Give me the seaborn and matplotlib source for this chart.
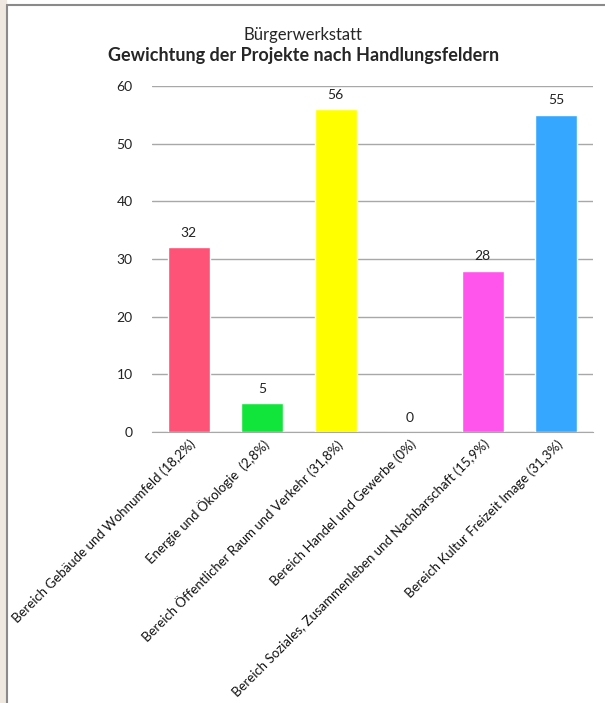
import pandas as pd
import matplotlib.pyplot as plt
import seaborn as sns
from matplotlib.patches import Rectangle
from matplotlib.lines import Line2D

kategorien = ['Bereich Gebäude und Wohnumfeld (18,2%)',
              'Energie und Ökologie  (2,8%)',
              'Bereich Öffentlicher Raum und Verkehr (31,8%)',
              'Bereich Handel und Gewerbe (0%)',
              'Bereich Soziales, Zusammenleben und Nachbarschaft (15,9%)',
              'Bereich Kultur Freizeit Image (31,3%)']
projekte = [32, 5, 56, 0, 28, 55]
farben = ['#FF5277', '#11E43A', '#FFFF00', '#CCCCCC', '#FF55EC', '#35A7FF']

df = pd.DataFrame({'kategorie': kategorien, 'projekte': projekte})

sns.set_style('white')
plt.rcParams['font.family'] = ['Lato', 'DejaVu Sans']

fig = plt.figure(figsize=(6.05, 7.03), dpi=100)
ax = fig.add_axes([0.2512, 0.3855, 0.7288, 0.4922])

sns.barplot(data=df, x='kategorie', y='projekte', hue='kategorie',
            hue_order=kategorien, palette=dict(zip(kategorien, farben)),
            width=0.57, saturation=1, legend=False, ax=ax)

for c in ax.containers:
    ax.bar_label(c, padding=6, fontsize=10, color='#222222')

ax.set_ylim(0, 60)
ax.set_xlim(-0.5, 5.5)
ax.set_yticks(range(0, 61, 10))
ax.yaxis.grid(True, color='#A8A8A8', linewidth=1)
ax.set_axisbelow(True)
ax.set_xlabel('')
ax.set_ylabel('')
ax.tick_params(axis='y', length=0, pad=14, labelsize=10, labelcolor='#222222')
ax.tick_params(axis='x', length=0, pad=4, labelsize=9.5, labelcolor='#111111')
plt.setp(ax.get_xticklabels(), rotation=45, ha='right', rotation_mode='anchor')
for s in ['left', 'right', 'top']:
    ax.spines[s].set_visible(False)
ax.spines['bottom'].set_color('#A8A8A8')

fig.text(0.501, 0.950, 'Bürgerwerkstatt', ha='center', va='center', fontsize=12)
fig.text(0.501, 0.921, 'Gewichtung der Projekte nach Handlungsfeldern',
         ha='center', va='center', fontsize=13, fontweight='bold')

# Rahmen und Hintergrundstreifen links
fig.patches.append(Rectangle((0, 0), 6 / 605, 1, transform=fig.transFigure,
                             color='#EEE8E0', zorder=0))
fig.lines.append(Line2D([6.5 / 605, 6.5 / 605], [0, 1 - 5 / 703], transform=fig.transFigure,
                        color='#8A8A8A', linewidth=1.5))
fig.lines.append(Line2D([6.5 / 605, 1], [1 - 5 / 703, 1 - 5 / 703], transform=fig.transFigure,
                        color='#8A8A8A', linewidth=1.5))

fig.savefig('out.png', dpi=100)
